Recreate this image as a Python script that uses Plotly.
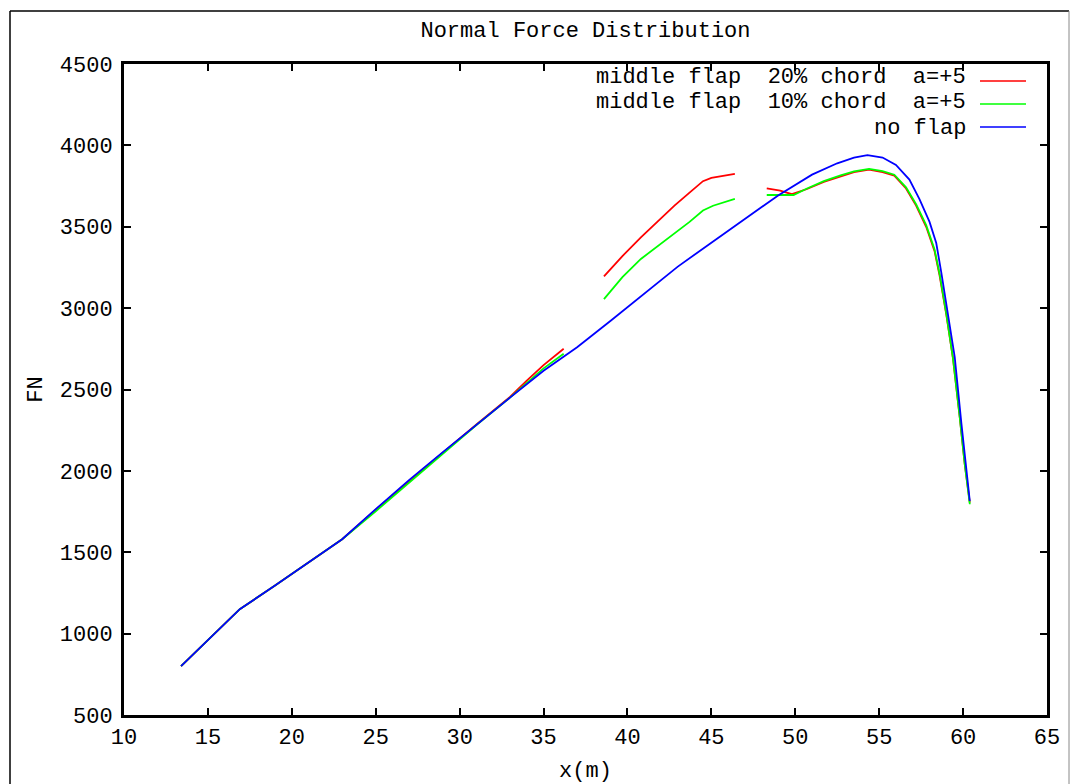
import plotly.graph_objects as go

# ---------------- data ----------------
x_ticks = [10, 15, 20, 25, 30, 35, 40, 45, 50, 55, 60, 65]
y_ticks = [500, 1000, 1500, 2000, 2500, 3000, 3500, 4000, 4500]

series_names = ["middle flap  20% chord  a=+5",
                "middle flap  10% chord  a=+5",
                "no flap"]

# no flap (continuous)
blue_x = [13.4, 15.0, 16.9, 19.0, 21.0, 23.0, 25.0, 27.0, 29.0, 31.0, 33.0, 35.0,
          37.0, 39.0, 41.0, 43.0, 45.0, 47.0, 49.0, 51.0, 52.5, 53.5, 54.3, 55.2,
          56.0, 56.8, 57.4, 58.0, 58.4, 58.7, 59.1, 59.5, 59.9, 60.2, 60.4]
blue_y = [800, 960, 1150, 1295, 1440, 1580, 1765, 1945, 2115, 2285, 2450, 2615,
          2760, 2922, 3090, 3255, 3402, 3547, 3694, 3820, 3890, 3925, 3940, 3925,
          3880, 3790, 3670, 3530, 3400, 3220, 2960, 2700, 2290, 2020, 1815]

# 20% chord flap: three pieces
red1_x = [13.4, 15.0, 16.9, 19.0, 21.0, 23.0, 25.0, 27.0, 29.0, 31.0, 33.0, 34.0, 35.0, 36.2]
red1_y = [800, 960, 1150, 1295, 1440, 1580, 1762, 1940, 2112, 2285, 2455, 2555, 2650, 2750]
red2_x = [38.6, 39.7, 40.8, 41.8, 42.8, 43.7, 44.5, 45.0, 45.6, 46.4]
red2_y = [3195, 3320, 3435, 3535, 3630, 3710, 3780, 3800, 3812, 3825]
red3_x = [48.3, 49.1, 49.8, 50.7, 51.7, 52.7, 53.5, 54.4, 55.2, 55.9, 56.6, 57.2,
          57.8, 58.3, 58.6, 59.0, 59.4, 59.8, 60.1, 60.4]
red3_y = [3736, 3722, 3700, 3732, 3775, 3810, 3835, 3851, 3835, 3814, 3735, 3630,
          3500, 3350, 3200, 2960, 2690, 2330, 2040, 1805]

# 10% chord flap: three pieces
green1_x = [13.4, 15.0, 16.9, 19.0, 21.0, 23.0, 25.0, 27.0, 29.0, 31.0, 33.0, 34.0, 35.0, 36.2]
green1_y = [800, 960, 1150, 1295, 1440, 1580, 1752, 1930, 2108, 2282, 2450, 2540, 2630, 2720]
green2_x = [38.6, 39.7, 40.8, 41.8, 42.8, 43.7, 44.5, 45.1, 46.4]
green2_y = [3055, 3190, 3302, 3382, 3460, 3530, 3600, 3629, 3671]
green3_x = [48.3, 49.1, 49.9, 50.7, 51.7, 52.7, 53.5, 54.4, 55.2, 55.9, 56.6, 57.2,
            57.8, 58.3, 58.6, 59.0, 59.4, 59.8, 60.1, 60.4]
green3_y = [3695, 3695, 3695, 3735, 3780, 3815, 3840, 3856, 3842, 3820, 3742, 3638,
            3510, 3360, 3210, 2965, 2690, 2330, 2040, 1795]

colors = ["#ff0000", "#00ff00", "#0000ff"]


def join(*parts):
    out = []
    for i, p in enumerate(parts):
        if i:
            out.append(None)
        out.extend(p)
    return out


red_x = join(red1_x, red2_x, red3_x)
red_y = join(red1_y, red2_y, red3_y)
green_x = join(green1_x, green2_x, green3_x)
green_y = join(green1_y, green2_y, green3_y)

# ---------------- layout constants ----------------
W, H = 1070, 784
L, R, T, B = 124, 23, 64, 69
PW, PH = W - L - R, H - T - B
FONT = "Liberation Mono, Courier New, monospace"


def px_x(p):
    return (p - L) / PW


def px_y(p):
    return (H - B - p) / PH


fig = go.Figure()
for xs, ys, c, n in [(red_x, red_y, colors[0], series_names[0]),
                     (green_x, green_y, colors[1], series_names[1]),
                     (blue_x, blue_y, colors[2], series_names[2])]:
    fig.add_trace(go.Scatter(x=xs, y=ys, mode="lines", name=n,
                             line=dict(color=c, width=1.8),
                             connectgaps=False, showlegend=False))

axis_common = dict(showgrid=False, zeroline=False, showline=True,
                   linecolor="black", linewidth=3, mirror="ticks",
                   ticks="inside", ticklen=7, tickwidth=2, tickcolor="black",
                   automargin=False,
                   tickfont=dict(family=FONT, size=22, color="black"))

fig.update_xaxes(range=[10, 65], tickvals=x_ticks,
                 ticktext=[str(v) for v in x_ticks],
                 title=dict(text="x(m)", font=dict(family=FONT, size=22, color="black"),
                            standoff=12),
                 **axis_common)
fig.update_yaxes(range=[500, 4500], tickvals=y_ticks,
                 ticktext=[str(v) for v in y_ticks],
                 ticklabelstandoff=4,
                 title=dict(text="FN", font=dict(family=FONT, size=22, color="black"),
                            standoff=12),
                 **axis_common)

shapes = []
# outer frame (left, top, right)
shapes.append(dict(type="line", xref="paper", yref="paper",
                   x0=px_x(10), x1=px_x(10), y0=px_y(11), y1=px_y(800),
                   line=dict(color="black", width=1.5)))
shapes.append(dict(type="line", xref="paper", yref="paper",
                   x0=px_x(10), x1=px_x(1069), y0=px_y(11), y1=px_y(11),
                   line=dict(color="black", width=1.5)))
shapes.append(dict(type="line", xref="paper", yref="paper",
                   x0=px_x(1069), x1=px_x(1069), y0=px_y(11), y1=px_y(800),
                   line=dict(color="#888888", width=1)))

annotations = []
legend_rows = [78, 103, 128]
legend_lines = [81, 104, 127]
for name, c, ry, ly in zip(series_names, colors, legend_rows, legend_lines):
    annotations.append(dict(xref="paper", yref="paper", x=px_x(968), y=px_y(ry),
                            xanchor="right", yanchor="middle", showarrow=False,
                            text=name.replace(" ", "&nbsp;"),
                            font=dict(family=FONT, size=22, color="black")))
    shapes.append(dict(type="line", xref="paper", yref="paper",
                       x0=px_x(980), x1=px_x(1026), y0=px_y(ly), y1=px_y(ly),
                       line=dict(color=c, width=1.5)))

fig.update_layout(
    width=W, height=H,
    margin=dict(l=L, r=R, t=T, b=B, autoexpand=False),
    paper_bgcolor="white", plot_bgcolor="white",
    title=dict(text="Normal Force Distribution", x=0.5, xref="paper",
               y=1 - 29 / H, yanchor="middle",
               font=dict(family=FONT, size=22, color="black")),
    shapes=shapes, annotations=annotations,
    showlegend=False,
)

fig.write_html("out.html")
